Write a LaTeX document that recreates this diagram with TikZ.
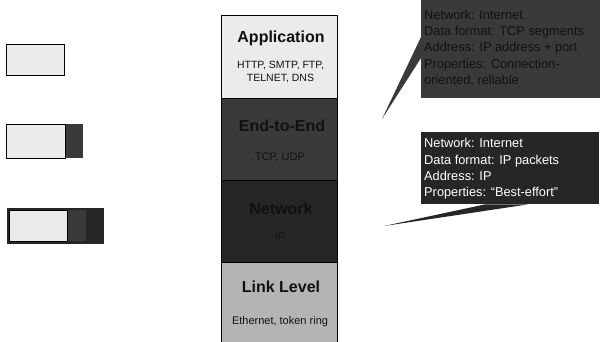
\documentclass[tikz,border=0pt]{standalone}
\usepackage{fontspec}
\setmainfont{Liberation Sans}
\usetikzlibrary{calc}
\definecolor{lightfill}{HTML}{EBEBEB}
\definecolor{midfill}{HTML}{3A3A3A}
\definecolor{deepfill}{HTML}{262626}
\definecolor{linkfill}{HTML}{B4B4B4}
\definecolor{inktext}{HTML}{111111}
\tikzset{
  layer/.style={draw=black, line width=0.8pt, rectangle, minimum width=116pt, inner sep=0pt},
  title/.style={font=\fontsize{16}{18}\selectfont\bfseries, text=inktext, inner sep=0pt},
  proto/.style={font=\fontsize{11}{13}\selectfont, text=inktext, inner sep=0pt, align=center},
  callout/.style={rectangle, inner sep=0pt, anchor=north west},
  callouttext/.style={font=\fontsize{12.8}{16.2}\selectfont, align=left, inner sep=0pt, anchor=north west},
  keybox/.style={rectangle, inner sep=0pt, anchor=north west},
}
\begin{document}
\begin{tikzpicture}[x=1pt,y=-1pt]
\useasboundingbox (0,0) rectangle (600,341);

% protocol stack
\node[layer, fill=lightfill, minimum height=83pt] (app) at (279,56.5) {};
\node[layer, fill=midfill, minimum height=82pt] (e2e) at (279,139) {};
\node[layer, fill=deepfill, minimum height=82pt] (net) at (279,221) {};
\node[layer, fill=linkfill, minimum height=80pt] (link) at (279,302) {};

\node[title] (appT) at (281,38) {Application};
\node[proto, font=\fontsize{10.5}{13}\selectfont] (appP) at (280.5,72.5) {HTTP, SMTP, FTP,\\TELNET, DNS};
\node[title] (e2eT) at (282,126) {End-to-End};
\node[proto] (e2eP) at (280,157) {TCP, UDP};
\node[title] (netT) at (281,209) {Network};
\node[proto] (netP) at (280,237) {IP};
\node[title] (linkT) at (281,287) {Link Level};
\node[proto] (linkP) at (280,322) {Ethernet, token ring};

% header legend on the left
\node[keybox, draw=black, line width=0.9pt, fill=lightfill, minimum width=58pt, minimum height=31pt] (k1) at (6,44) {};

\node[keybox, fill=midfill, minimum width=77pt, minimum height=34pt] (k2) at (6,124) {};
\node[keybox, draw=black, line width=1pt, fill=lightfill, minimum width=59pt, minimum height=34pt] (k2a) at (6,124) {};

\node[keybox, draw=black!85, line width=1pt, fill=deepfill, minimum width=96pt, minimum height=35pt] (k3) at (7,208) {};
\node[keybox, fill=midfill, minimum width=19pt, minimum height=31pt] (k3b) at (67,210) {};
\node[keybox, draw=black, line width=0.9pt, fill=lightfill, minimum width=58pt, minimum height=31pt] (k3a) at (9,210) {};

% callouts
\node[callout, fill=midfill, minimum width=179pt, minimum height=98pt] (ca) at (421,0) {};
\coordinate (tipA) at (382,119);
\fill[midfill] ([yshift=-37pt]ca.north west) -- (tipA) -- ([yshift=-58pt]ca.north west) -- cycle;
\node[callouttext, text=inktext] (caT) at (424,10) {Network: Internet\\Data format: TCP segments\\Address: IP address + port\\Properties: Connection-\\oriented, reliable};

\node[callout, fill=deepfill, minimum width=178pt, minimum height=72pt] (cb) at (421,132) {};
\coordinate (tipB) at (384,226);
\fill[deepfill] ([xshift=64pt]cb.south west) -- (tipB) -- ([xshift=107pt]cb.south west) -- cycle;
\node[callouttext, text=white] (cbT) at (424,138.5) {Network: Internet\\Data format: IP packets\\Address: IP\\Properties: “Best-effort”};
\end{tikzpicture}
\end{document}
